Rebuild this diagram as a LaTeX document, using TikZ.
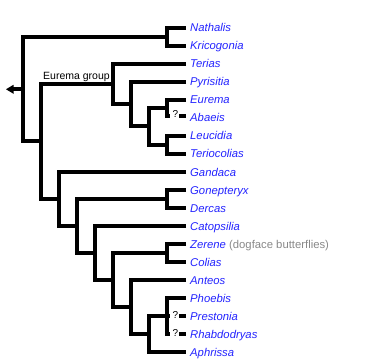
\documentclass[tikz,border=0pt]{standalone}
\usepackage{fontspec}
\setmainfont{Liberation Sans}
\definecolor{linkblue}{HTML}{2222FF}
\definecolor{notegray}{HTML}{888888}
\begin{document}
\begin{tikzpicture}[x=1pt,y=-1pt,
  br/.style={line width=4pt, line join=miter, line cap=butt},
  leaf/.style={anchor=base west, inner sep=0pt, text=linkblue, font=\fontsize{11.3}{13}\selectfont\itshape},
  qmark/.style={anchor=base, inner sep=0pt, font=\fontsize{10}{12}\selectfont},
  grp/.style={anchor=base west, inner sep=0pt, font=\fontsize{10.5}{12}\selectfont}]
\useasboundingbox (0,0) rectangle (387,363);
% leaf line ends
\coordinate (nat-e) at (186,28);
\coordinate (kri-e) at (186,46);
\coordinate (ter-e) at (186,64);
\coordinate (pyr-e) at (186,82);
\coordinate (eur-e) at (186,100);
\coordinate (aba-b) at (170,116);
\coordinate (aba-s) at (179,116);
\coordinate (aba-e) at (186,116);
\coordinate (leu-e) at (186,136);
\coordinate (tco-e) at (186,154);
\coordinate (gan-e) at (186,172);
\coordinate (gon-e) at (186,190);
\coordinate (der-e) at (186,208);
\coordinate (cat-e) at (186,226);
\coordinate (zer-e) at (186,244);
\coordinate (col-e) at (186,262);
\coordinate (ant-e) at (186,280);
\coordinate (pho-e) at (186,298);
\coordinate (pre-b) at (170,316);
\coordinate (pre-s) at (179,316);
\coordinate (pre-e) at (186,316);
\coordinate (rha-b) at (170,334);
\coordinate (rha-s) at (179,334);
\coordinate (rha-e) at (186,334);
\coordinate (aph-e) at (186,352);
% internal nodes
\coordinate (A) at (167,37);
\coordinate (B) at (167,108);
\coordinate (C) at (167,145);
\coordinate (D) at (149,126.5);
\coordinate (E) at (131,104.25);
\coordinate (F) at (113,84.1);
\coordinate (G) at (167,199);
\coordinate (H) at (167,253);
\coordinate (I) at (167,316);
\coordinate (J) at (149,334);
\coordinate (K) at (131,307);
\coordinate (L) at (113,280);
\coordinate (M) at (95,253);
\coordinate (N) at (77,226);
\coordinate (O) at (59,199);
\coordinate (P) at (41,141.5);
\coordinate (R) at (23,89.3);
\coordinate (rs) at (13,89.3);
% branches
\draw[br] (nat-e) -| (A) |- (kri-e);
\draw[br] (eur-e) -| (B) |- (aba-b);
\draw[br] (leu-e) -| (C) |- (tco-e);
\draw[br] (B) -| (D) |- (C);
\draw[br] (pyr-e) -| (E) |- (D);
\draw[br] (ter-e) -| (F) |- (E);
\draw[br] (gon-e) -| (G) |- (der-e);
\draw[br] (zer-e) -| (H) |- (col-e);
\draw[br] (pho-e) -| (I) |- (rha-b);
\draw[br] (I) -- (pre-b);
\draw[br] (I) -| (J) |- (aph-e);
\draw[br] (ant-e) -| (K) |- (J);
\draw[br] (H) -| (L) |- (K);
\draw[br] (cat-e) -| (M) |- (L);
\draw[br] (G) -| (N) |- (M);
\draw[br] (gan-e) -| (O) |- (N);
\draw[br] (F) -| (P) |- (O);
\draw[br] (A) -| (R) |- (P);
\draw[br] (R) -- (rs);
\fill (13.5,84.8) -- (6,89.3) -- (13.5,93.8) -- cycle;
% uncertain placements
\draw[br] (aba-s) -- (aba-e);
\draw[br] (pre-s) -- (pre-e);
\draw[br] (rha-s) -- (rha-e);
\node[qmark] (q1) at (175.5,118) {?};
\node[qmark] (q2) at (175.5,318) {?};
\node[qmark] (q3) at (175.5,336) {?};
% labels
\node[grp] (eg) at (43,80) {Eurema group};
\node[leaf] (nat) at (190,32) {Nathalis};
\node[leaf] (kri) at (190,50) {Kricogonia};
\node[leaf] (ter) at (190,68) {Terias};
\node[leaf] (pyr) at (190,86) {Pyrisitia};
\node[leaf] (eur) at (190,104) {Eurema};
\node[leaf] (aba) at (190,122) {Abaeis};
\node[leaf] (leu) at (190,140) {Leucidia};
\node[leaf] (tco) at (190,158) {Teriocolias};
\node[leaf] (gan) at (190,176) {Gandaca};
\node[leaf] (gon) at (190,194) {Gonepteryx};
\node[leaf] (der) at (190,212) {Dercas};
\node[leaf] (cat) at (190,230) {Catopsilia};
\node[leaf] (zer) at (190,248) {Zerene\/ {\upshape\color{notegray}(dogface butterflies)}};
\node[leaf] (col) at (190,266) {Colias};
\node[leaf] (ant) at (190,284) {Anteos};
\node[leaf] (pho) at (190,302) {Phoebis};
\node[leaf] (pre) at (190,320) {Prestonia};
\node[leaf] (rha) at (190,338) {Rhabdodryas};
\node[leaf] (aph) at (190,356) {Aphrissa};
\end{tikzpicture}
\end{document}
